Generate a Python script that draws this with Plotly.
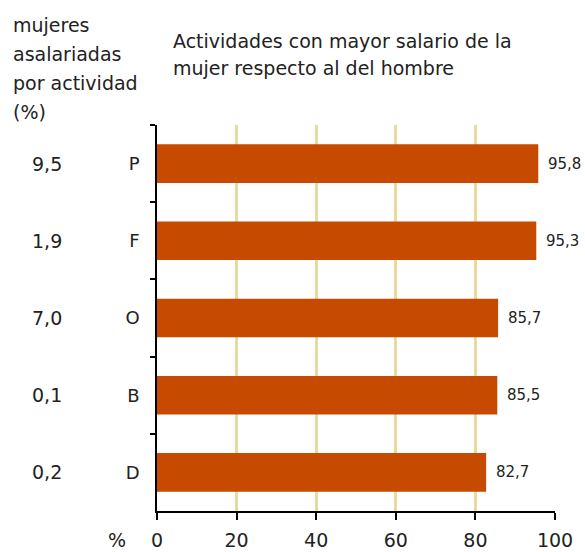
import plotly.graph_objects as go

categories = ["P", "F", "O", "B", "D"]
ratio_values = [95.8, 95.3, 85.7, 85.5, 82.7]
share_women = [9.5, 1.9, 7.0, 0.1, 0.2]
x_ticks = [0, 20, 40, 60, 80, 100]
title_lines = ["Actividades con mayor salario de la", "mujer respecto al del hombre"]
caption_lines = ["mujeres", "asalariadas", "por actividad", "(%)"]

FONT = "DejaVu Sans"
W, H = 585, 552
L, R, T, B = 157, 30, 125, 41
PH = H - T - B


def py(ypx):
    return (H - B - ypx) / PH


def px(xpx):
    return (xpx - L) / (W - L - R)


def fmt(v):
    return f"{v:.1f}".replace(".", ",")


fig = go.Figure()
fig.add_trace(go.Bar(
    x=ratio_values, y=categories, orientation="h",
    marker=dict(color="#C64A00", line=dict(width=0)),
    width=0.5, hoverinfo="skip",
))

ann = []
for c, v in zip(categories, ratio_values):
    ann.append(dict(x=v, y=c, xref="x", yref="y", text=fmt(v), showarrow=False,
                    xanchor="left", yanchor="middle", xshift=8,
                    font=dict(family=FONT, size=15, color="#222")))
for c, s in zip(categories, share_women):
    ann.append(dict(x=px(47), y=c, xref="paper", yref="y", text=fmt(s), showarrow=False,
                    xanchor="center", yanchor="middle",
                    font=dict(family=FONT, size=19, color="#222")))
for i, t in enumerate(title_lines):
    ann.append(dict(x=px(171), y=py(41 + 27 * i), xref="paper", yref="paper", text=t,
                    showarrow=False, xanchor="left", yanchor="middle",
                    font=dict(family=FONT, size=19, color="#222")))
for i, t in enumerate(caption_lines):
    ann.append(dict(x=px(11), y=py(25 + 29 * i), xref="paper", yref="paper", text=t,
                    showarrow=False, xanchor="left", yanchor="middle",
                    font=dict(family=FONT, size=19, color="#222")))
ann.append(dict(x=px(117), y=py(540), xref="paper", yref="paper", text="%",
                showarrow=False, xanchor="center", yanchor="middle",
                font=dict(family=FONT, size=19, color="#222")))

fig.update_layout(
    width=W, height=H,
    margin=dict(l=L, r=R, t=T, b=B, autoexpand=False),
    paper_bgcolor="white", plot_bgcolor="white",
    showlegend=False,
    annotations=ann,
    xaxis=dict(range=[0, 100], tickvals=x_ticks, ticktext=[str(t) for t in x_ticks],
               automargin=False,
               showgrid=True, gridcolor="#E8D9A0", gridwidth=3,
               zeroline=False, showline=True, linecolor="black", linewidth=1.5,
               ticks="outside", ticklen=7, tickcolor="black", tickwidth=1.5,
               ticklabelstandoff=4,
               tickfont=dict(family=FONT, size=19, color="#222"), fixedrange=True),
    yaxis=dict(type="category", autorange="reversed", tickson="boundaries",
               automargin=False,
               showgrid=False, zeroline=False, showline=True, linecolor="black",
               linewidth=1.5, ticks="outside", ticklen=5, tickcolor="black", tickwidth=1.5,
               ticklabelstandoff=12,
               tickfont=dict(family=FONT, size=18, color="#222"), fixedrange=True),
)

fig.write_html("out.html", config={"displayModeBar": False},
               post_script="document.body.style.margin='0';document.body.style.overflow='hidden';")
